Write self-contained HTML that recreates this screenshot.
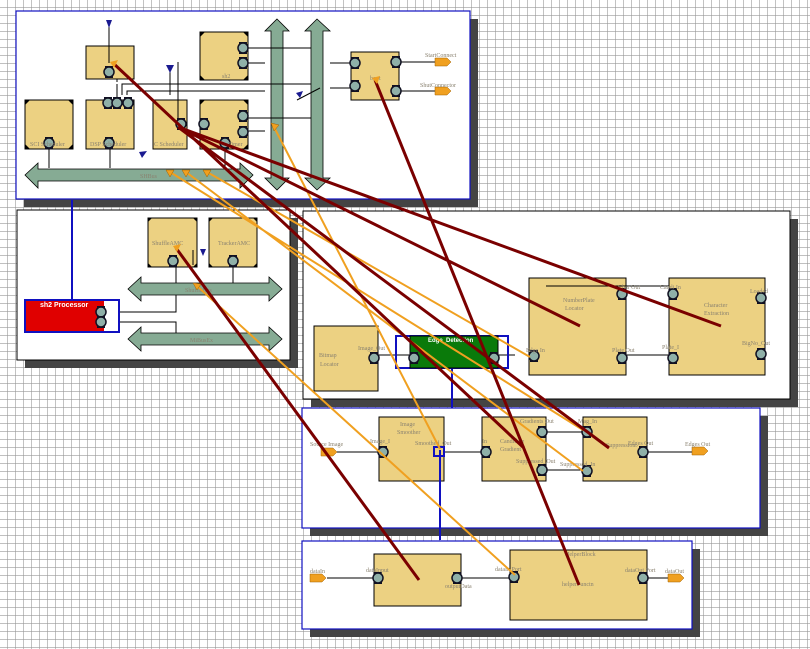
<!DOCTYPE html>
<html><head><meta charset="utf-8"><style>
html,body{margin:0;padding:0;background:#fff}
svg{display:block}
text{font-family:"Liberation Serif",serif;fill:#8a8270;font-size:6px}
</style></head><body>
<svg width="810" height="649" viewBox="0 0 810 649" xmlns="http://www.w3.org/2000/svg">
<defs>
<pattern id="g" width="8" height="8" patternUnits="userSpaceOnUse"><path d="M8 0V8M0 8H8" stroke="#999" stroke-width="1.2" fill="none"/></pattern>
<g id="p"><rect x="-4" y="-6" width="8" height="12" fill="#112"/><circle cx="0" cy="0" r="5" fill="#8fb0a8" stroke="#112" stroke-width="1.5"/></g>
<polygon id="hx" points="0,-4 12,-4 16,0 12,4 0,4" fill="#f0a020" stroke="#a06000" stroke-width="0.5"/>
<g id="cn"><polygon points="0,0 4,0 0,4" fill="#000"/></g>
</defs>
<rect width="810" height="649" fill="#fff"/>
<rect width="810" height="649" fill="url(#g)"/>

<rect x="24" y="19" width="454" height="188" fill="#444"/>
<rect x="16" y="11" width="454" height="188" fill="#fff" stroke="#1010c0" stroke-width="1.2"/>
<rect x="25" y="218" width="273" height="150" fill="#444"/>
<rect x="17" y="210" width="273" height="150" fill="#fff" stroke="#000"/>
<rect x="311" y="219" width="487" height="188" fill="#444"/>
<rect x="303" y="211" width="487" height="188" fill="#fff" stroke="#000"/>
<rect x="310" y="416" width="458" height="120" fill="#444"/>
<rect x="302" y="408" width="458" height="120" fill="#fff" stroke="#1010c0" stroke-width="1.2"/>
<rect x="310" y="549" width="390" height="88" fill="#444"/>
<rect x="302" y="541" width="390" height="88" fill="#fff" stroke="#1010c0" stroke-width="1.2"/>

<g stroke="#000" stroke-width="1" fill="#ecd182">
<rect x="86" y="46" width="48" height="33"/>
<rect x="200" y="32" width="48" height="48"/>
<rect x="25" y="100" width="48" height="49"/>
<rect x="86" y="100" width="48" height="49"/>
<rect x="153" y="100" width="34" height="49"/>
<rect x="200" y="100" width="48" height="49"/>
<rect x="351" y="52" width="48" height="48"/>
<rect x="148" y="218" width="49" height="49"/>
<rect x="209" y="218" width="48" height="49"/>
<rect x="314" y="326" width="64" height="65"/>
<rect x="529" y="278" width="97" height="97"/>
<rect x="669" y="278" width="96" height="97"/>
<rect x="379" y="417" width="65" height="64"/>
<rect x="482" y="417" width="64" height="64"/>
<rect x="583" y="417" width="64" height="64"/>
<rect x="374" y="554" width="87" height="52"/>
<rect x="510" y="550" width="137" height="70"/>
</g>
<g fill="#000">
<polygon points="200,32 205,32 200,37"/><polygon points="248,32 243,32 248,37"/><polygon points="200,80 205,80 200,75"/><polygon points="248,80 243,80 248,75"/>
<polygon points="25,100 30,100 25,105"/><polygon points="73,100 68,100 73,105"/><polygon points="25,149 30,149 25,144"/><polygon points="73,149 68,149 73,144"/>
<polygon points="200,100 205,100 200,105"/><polygon points="248,100 243,100 248,105"/><polygon points="248,149 243,149 248,144"/>
<polygon points="148,218 152,218 148,222"/><polygon points="197,218 193,218 197,222"/><polygon points="148,267 152,267 148,263"/><polygon points="197,267 193,267 197,263"/>
<polygon points="209,218 213,218 209,222"/><polygon points="257,218 253,218 257,222"/><polygon points="209,267 213,267 209,263"/><polygon points="257,267 253,267 257,263"/>
</g>

<g fill="#86ab94" stroke="#000" stroke-width="0.8">
<polygon points="25,175 38,163 38,169 240,169 240,163 253,175 240,188 240,181 38,181 38,188"/>
<polygon points="277,19 289,31 283,31 283,178 289,178 277,190 265,178 271,178 271,31 265,31"/>
<polygon points="317,19 330,31 323,31 323,178 330,178 317,190 305,178 311,178 311,31 305,31"/>
<polygon points="128,289 141,277 141,283 269,283 269,277 282,289 269,301 269,295 141,295 141,301"/>
<polygon points="128,339 141,327 141,333 269,333 269,327 282,339 269,351 269,345 141,345 141,351"/>
</g>
<text x="140" y="178">SHBus</text><text x="185" y="292">ShuffleBus</text><text x="190" y="342">MiBusEx</text>

<g stroke="#000" stroke-width="1" fill="none">
<path d="M248,48H311M248,63H265M330,63H351M248,118H311M248,131H265M117,97V84M122,95V84H311M127,95V91H265"/>
<path d="M49,149V168M110,149V168M225,149V168M297,100L320,88"/>
<path d="M399,62H435M399,91H435M330,88H351"/>
<path d="M176,267V283M233,267V283M107,312H176V295M107,322H176V333M193,265V250"/>
<path d="M378,355H410M498,355H515M626,355H669M546,286H669"/>
<path d="M337,452H379M444,452H482M546,432H583M546,470H583M583,432V470M647,452H692"/>
<path d="M327,578H374M461,578H510M647,578H668"/>
</g>
<path d="M117,79V97" stroke="#000" stroke-dasharray="3,3"/>
<path d="M109,23V63M178,62V127M170,67V95" stroke="#000"/>
<polygon points="106,20 112,20 109,28" fill="#1a1a90"/>
<polygon points="166,65 174,65 170,73" fill="#1a1a90"/>
<polygon points="139,152 147,151 142,158" fill="#1a1a90"/>
<polygon points="296,93 303,91 300,98" fill="#1a1a90"/>
<polygon points="200,249 206,249 203,256" fill="#1a1a90"/>

<g stroke="#1010c0" stroke-width="2" fill="none">
<path d="M72,200V300M452,368V408M440,450V540"/>
<rect x="396" y="336" width="112" height="32"/>
<rect x="434" y="447" width="10" height="9"/>
</g>
<rect x="25" y="300" width="94" height="32" fill="#e00000" stroke="#1010c0" stroke-width="2"/>
<rect x="104" y="301" width="14" height="30" fill="#fff"/>
<text x="40" y="307" style="fill:#fff;font-family:'Liberation Sans',sans-serif;font-weight:bold;font-size:7px">sh2 Processor</text>
<rect x="410" y="336" width="88" height="32" fill="#0a7a0a" stroke="#000"/>
<text x="428" y="342" style="fill:#fff;font-family:'Liberation Sans',sans-serif;font-weight:bold;font-size:6px">Edge_Detection</text>

<g>
<use href="#p" x="243" y="48"/><use href="#p" x="243" y="63"/><use href="#p" x="355" y="63"/><use href="#p" x="355" y="86"/>
<use href="#p" x="396" y="62"/><use href="#p" x="396" y="91"/><use href="#p" x="109" y="72"/>
<use href="#p" x="108" y="103"/><use href="#p" x="117" y="103"/><use href="#p" x="128" y="103"/>
<use href="#p" x="49" y="143"/><use href="#p" x="109" y="143"/><use href="#p" x="181" y="124"/><use href="#p" x="204" y="124"/>
<use href="#p" x="243" y="116"/><use href="#p" x="243" y="132"/><use href="#p" x="225" y="143"/>
<use href="#p" x="173" y="261"/><use href="#p" x="233" y="261"/><use href="#p" x="101" y="312"/><use href="#p" x="101" y="322"/>
<use href="#p" x="374" y="358"/><use href="#p" x="414" y="358"/><use href="#p" x="494" y="358"/><use href="#p" x="534" y="356"/>
<use href="#p" x="622" y="358"/><use href="#p" x="622" y="294"/><use href="#p" x="673" y="294"/><use href="#p" x="673" y="358"/>
<use href="#p" x="761" y="298"/><use href="#p" x="761" y="354"/>
<use href="#p" x="383" y="452"/><use href="#p" x="486" y="452"/><use href="#p" x="542" y="432"/><use href="#p" x="542" y="470"/>
<use href="#p" x="587" y="432"/><use href="#p" x="587" y="471"/><use href="#p" x="643" y="452"/>
<use href="#p" x="378" y="578"/><use href="#p" x="457" y="578"/><use href="#p" x="514" y="577"/><use href="#p" x="643" y="578"/>
</g>
<use href="#hx" x="435" y="62"/><use href="#hx" x="435" y="91"/>
<use href="#hx" x="321" y="452"/><use href="#hx" x="692" y="451"/>
<use href="#hx" x="310" y="578"/><use href="#hx" x="668" y="578"/>

<text x="222" y="78">sh2</text><text x="30" y="146">SCI Scheduler</text><text x="90" y="146">DSP Scheduler</text>
<text x="154" y="146">C Scheduler</text><text x="228" y="146">Timer</text><text x="370" y="80">boot</text>
<text x="425" y="57">StartConnect</text><text x="420" y="87">ShutConnector</text>
<text x="152" y="245">ShuffleAMC</text><text x="218" y="245">TrackerAMC</text>
<text x="319" y="357">Bitmap</text><text x="320" y="366">Locator</text><text x="358" y="350">Image_Out</text>
<text x="563" y="302">NumberPlate</text><text x="565" y="310">Locator</text><text x="618" y="289">Char Out</text>
<text x="660" y="289">Candi In</text><text x="704" y="307">Character</text><text x="704" y="315">Extraction</text>
<text x="750" y="293">Loaded</text><text x="742" y="345">BigNo_Out</text><text x="612" y="352">Plate Out</text>
<text x="662" y="349">Plate_I</text><text x="526" y="352">Edge In</text>
<text x="400" y="426">Image</text><text x="397" y="434">Smoother</text><text x="370" y="443">Image_I</text>
<text x="415" y="445">Smoothed_Out</text><text x="310" y="446">Source Image</text><text x="482" y="443">In</text>
<text x="500" y="443">Candidate</text><text x="500" y="451">Gradient</text><text x="520" y="423">Gradients Out</text>
<text x="578" y="423">Mag_In</text><text x="516" y="463">Suppressed_Out</text><text x="560" y="466">Suppressed_In</text>
<text x="606" y="447">Suppression</text><text x="628" y="445">Edges Out</text><text x="685" y="446">Edges Out</text>
<text x="310" y="573">dataIn</text><text x="366" y="572">dataInput</text><text x="445" y="588">outputData</text>
<text x="495" y="571">dataIn Port</text><text x="565" y="556">HelperBlock</text><text x="562" y="586">helperFunctn</text>
<text x="625" y="572">dataOut Port</text><text x="665" y="573">dataOut</text>

<g stroke="#f0a020" stroke-width="2" fill="none">
<path d="M170,172L583,430M186,172L583,471M207,172L530,357M274,127L440,449M197,286L515,575"/>
</g>
<g fill="#f0a020" stroke="#a06000" stroke-width="0.5">
<polygon points="166,170 174,170 170,177"/><polygon points="182,170 190,170 186,177"/><polygon points="203,170 211,170 207,177"/>
<polygon points="271,123 279,125 274,131"/><polygon points="193,283 201,284 197,290"/>
</g>
<g stroke="#7a0000" stroke-width="3" fill="none">
<path d="M113,63L524,448M178,127L609,448M178,127L580,326M178,127L721,326M375,80L579,585M176,248L419,580"/>
</g>
<polygon points="110,62 118,60 114,68" fill="#f0a020"/><polygon points="372,78 380,76 377,84" fill="#f0a020"/>
<polygon points="173,246 181,244 177,252" fill="#f0a020"/>
</svg>
</body></html>
